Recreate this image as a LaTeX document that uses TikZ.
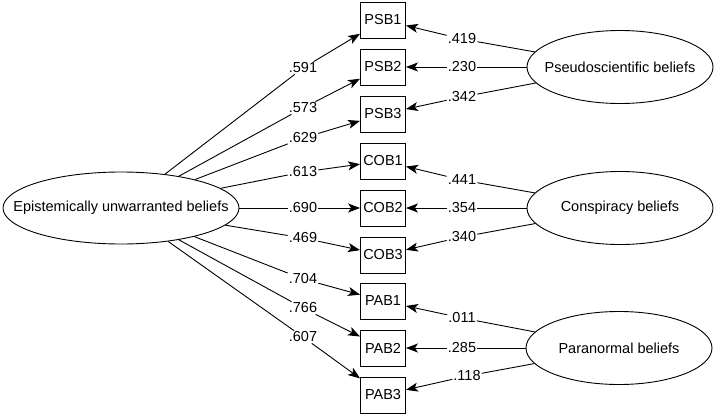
\documentclass[tikz,border=0pt]{standalone}
\usepackage{fontspec}
\setmainfont{Liberation Sans}
\usetikzlibrary{shapes,arrows.meta,positioning}

\begin{document}
\begin{tikzpicture}[x=1pt, y=-1pt, font=\fontsize{14.5}{17}\selectfont]
    \tikzstyle{latent} = [ellipse, draw, line width=0.9pt, inner ysep=0pt]
    \tikzstyle{indicator} = [rectangle, draw, line width=0.9pt, minimum width=45pt, minimum height=36pt, inner sep=0pt]
    \tikzstyle{coef} = [inner sep=1pt]
    \tikzstyle{link} = [line width=0.9pt]
    \tikzstyle{arrow} = [line width=0.9pt, -{Stealth[length=12pt, width=9pt, inset=3pt]}]

    \useasboundingbox (0,0) rectangle (714,415);

    \node [latent, minimum width=236pt, minimum height=72pt, inner xsep=-25pt] (ewub) at (121,208) {Epistemically unwarranted beliefs};
    \node [latent, minimum width=186pt, minimum height=73pt, inner xsep=-20pt] (psb) at (620,67) {Pseudoscientific beliefs};
    \node [latent, minimum width=186pt, minimum height=73pt, inner xsep=-20pt] (cob) at (620,208) {Conspiracy beliefs};
    \node [latent, minimum width=186pt, minimum height=73pt, inner xsep=-20pt] (pab) at (619,348) {Paranormal beliefs};

    % observed items
    \foreach \name/\y in {PSB1/20, PSB2/67, PSB3/114, COB1/161, COB2/208, COB3/255, PAB1/301, PAB2/348, PAB3/395}
        \node [indicator] (\name) at (383,\y) {\name};

    % general factor loadings
    \foreach \name/\y/\val in {PSB1/68/.591, PSB2/108/.573, PSB3/138/.629, COB1/172/.613, COB2/208/.690, COB3/238/.469, PAB1/279/.704, PAB2/308/.766, PAB3/337/.607} {
        \node [coef] (g\name) at (303,\y) {\val};
        \draw [link] (ewub) -- (g\name);
        \draw [arrow] (g\name) -- (\name);
    }

    % specific factor loadings
    \foreach \fac/\name/\x/\y/\val in {psb/PSB1/462/39/.419, psb/PSB2/462/67/.230, psb/PSB3/462/97/.342, cob/COB1/462/180/.441, cob/COB2/462/208/.354, cob/COB3/462/237/.340, pab/PAB1/462/318/.011, pab/PAB2/462/348/.285, pab/PAB3/467/376/.118} {
        \node [coef] (s\name) at (\x,\y) {\val};
        \draw [link] (\fac) -- (s\name);
        \draw [arrow] (s\name) -- (\name);
    }
\end{tikzpicture}
\end{document}
